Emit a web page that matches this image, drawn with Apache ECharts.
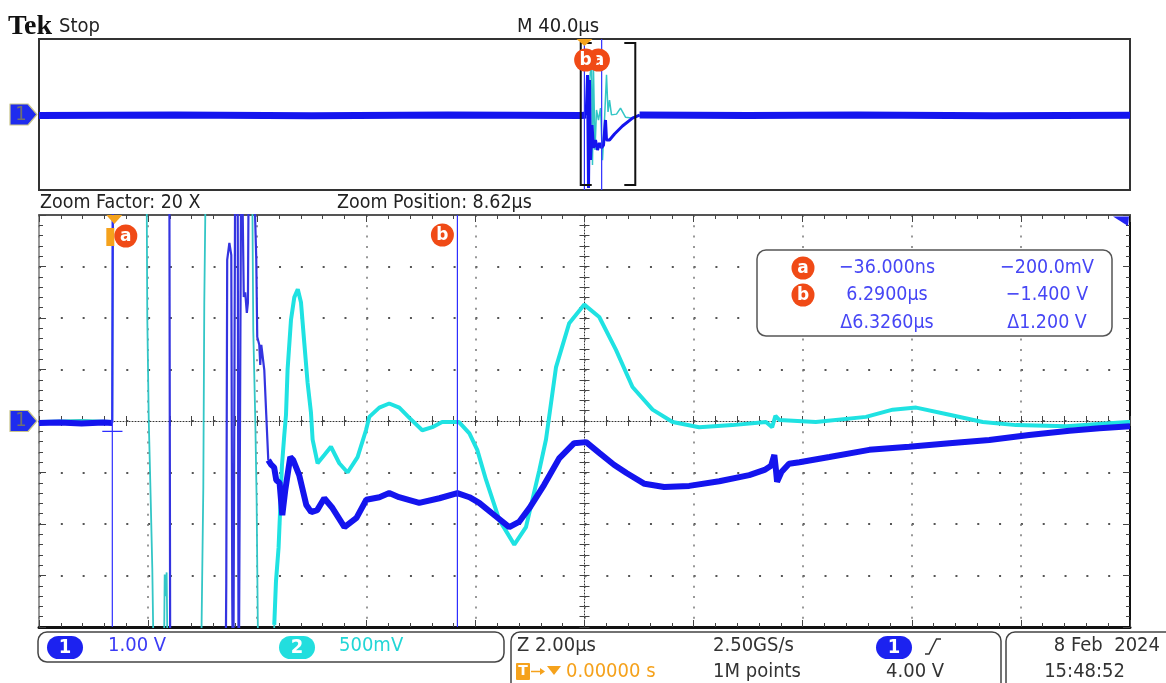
<!DOCTYPE html>
<html><head><meta charset="utf-8">
<script src="https://cdn.jsdelivr.net/npm/echarts@6/dist/echarts.min.js"></script>
<style>html,body{margin:0;padding:0;background:#fff;}#c{width:1166px;height:683px;}</style>
</head><body><div id="c"></div>
<script>
// ---------------- DATA (time in µs, amplitude in V) ----------------
// Zoomed view: 2 µs/div, zoom position 8.62 µs -> window -1.38 .. 18.62 µs
const mainTimeRange = [-1.38, 18.62];
const mainTimeDiv = 2;
// Main record: 40 µs/div, 10 div around trigger
const upperTimeRange = [-200, 200];
// CH1 1.00 V/div, CH2 500 mV/div, both centred
const ch1Range = [-4, 4];
const ch2Range = [-2, 2];

// CH1 (blue) – zoomed view
const ch1Pre = [[-1.38,-0.04],[-1.0,-0.03],[-0.6,-0.05],[-0.2,-0.03],[-0.037,-0.04]];
const ch1Burst = [[-0.037,-0.04],[-0.02,6],[1.008,6],[1.027,-6],[2.035,-6],[2.053,-3.15],[2.07,3.13],[2.11,3.46],[2.145,3.22],[2.163,-3.44],[2.18,-6],[2.2,-6],[2.22,6],[2.26,6],[2.28,-6],[2.31,-6],[2.33,6],[2.35,6],[2.374,2.41],[2.4,2.5],[2.43,2.1],[2.45,2.3],[2.47,6],[2.53,6],[2.603,3.13],[2.621,1.63],[2.658,1.48],[2.676,1.09],[2.695,1.48],[2.731,1.51],[2.75,0.99],[2.786,0.12],[2.823,-0.76]];
const ch1Tail = [[2.823,-0.76],[2.878,-0.85],[2.93,-0.9],[2.97,-1.15],[3.03,-1.2],[3.08,-1.83],[3.135,-1.34],[3.226,-0.70],[3.28,-0.76],[3.39,-1.05],[3.52,-1.63],[3.61,-1.77],[3.72,-1.73],[3.85,-1.50],[4.0,-1.69],[4.22,-2.06],[4.44,-1.88],[4.62,-1.53],[4.86,-1.48],[5.04,-1.40],[5.22,-1.48],[5.59,-1.59],[5.96,-1.50],[6.29,-1.40],[6.51,-1.48],[6.69,-1.59],[6.97,-1.83],[7.24,-2.06],[7.42,-1.96],[7.61,-1.69],[7.88,-1.24],[8.16,-0.72],[8.43,-0.43],[8.65,-0.41],[8.89,-0.62],[9.16,-0.85],[9.39,-1.01],[9.72,-1.22],[10.08,-1.28],[10.54,-1.26],[11.09,-1.17],[11.64,-1.05],[11.92,-0.95],[12.04,-0.87],[12.10,-0.66],[12.13,-0.95],[12.15,-1.18],[12.23,-0.99],[12.37,-0.83],[12.56,-0.80],[13.11,-0.70],[13.84,-0.56],[14.57,-0.50],[15.31,-0.43],[16.04,-0.37],[16.77,-0.27],[17.51,-0.19],[18.06,-0.14],[18.62,-0.10]];

// CH2 (cyan) – zoomed view
const ch2Burst = [[-1.38,0],[-0.6,0.01],[-0.037,0],[-0.02,3],[0.587,3],[0.605,1.01],[0.632,0.01],[0.669,-0.79],[0.697,-1.43],[0.74,-3],[0.9,-3],[0.924,-1.49],[0.94,-1.7],[0.96,-1.47],[0.99,-3],[1.58,-3],[1.6,-2],[1.632,-0.65],[1.65,1.15],[1.69,3],[2.52,3],[2.548,0.88],[2.585,0.01],[2.609,-0.75],[2.65,-3],[2.91,-3],[2.933,-1.98]];
const ch2Tail = [[2.933,-1.98],[2.964,-1.56],[3.012,-1.23],[3.037,-0.91],[3.074,-0.43],[3.116,-0.14],[3.148,0.06],[3.177,0.50],[3.239,0.98],[3.30,1.20],[3.364,1.28],[3.423,1.15],[3.483,0.76],[3.544,0.37],[3.606,0.08],[3.636,-0.18],[3.727,-0.41],[3.85,-0.33],[3.972,-0.25],[4.125,-0.41],[4.277,-0.50],[4.46,-0.35],[4.614,-0.09],[4.675,0.04],[4.858,0.13],[5.04,0.17],[5.225,0.13],[5.41,0.03],[5.646,-0.09],[5.83,-0.06],[6.01,-0.01],[6.32,-0.01],[6.51,-0.12],[6.654,-0.28],[6.814,-0.57],[7.058,-0.96],[7.333,-1.20],[7.547,-1.03],[7.791,-0.48],[7.914,-0.18],[8.097,0.52],[8.34,0.95],[8.616,1.13],[8.89,1.01],[9.197,0.69],[9.50,0.33],[9.868,0.11],[10.235,-0.01],[10.72,-0.06],[11.33,-0.04],[11.947,-0.01],[12.06,-0.06],[12.12,0.05],[12.19,0.01],[12.86,-0.01],[13.78,0.04],[14.27,0.11],[14.70,0.13],[15.31,0.06],[15.92,-0.01],[16.53,-0.04],[17.45,-0.05],[18.58,-0.01],[18.62,-0.01]];

// Main record (upper panel)
const up1Pre = [[-200,-0.05],[-150,-0.03],[-100,-0.06],[-50,-0.03],[-1,-0.05],[0.62,-0.03]];
const up1Burst = [[0.62,-0.03],[1.1,2.09],[1.47,-3.89],[1.83,1.83],[2.2,-2.41],[2.75,-0.56],[3.3,-1.77],[4.03,-1.35],[4.77,-1.88],[5.5,-1.51],[6.23,-1.77],[6.97,-1.62],[7.7,-0.29],[8.07,-1.35],[9.17,-1.35],[11.0,-1.03],[13.93,-0.61],[17.6,-0.19],[20.2,-0.03]];
const up1Post = [[20.2,-0.03],[60,-0.05],[100,-0.03],[150,-0.06],[200,-0.04]];
const up2 = [[-200,0],[0.73,-0.01],[2.57,1.44],[2.93,-1.34],[3.3,1.18],[3.85,-0.94],[4.4,0.12],[5.13,-0.15],[5.87,0.17],[6.6,-1.21],[7.33,-0.15],[8.07,1.05],[8.62,0.07],[9.17,0.38],[9.9,-0.01],[11.73,0.01],[13.2,0.17],[15.03,-0.07],[17.23,-0.09],[20.2,-0.01],[200,0]];

// Cursors
const cursorTimes = [-0.036, 6.29];
const cursorALevel = -0.2;
const zoomWindow = [-1.38, 18.62];
const cursorRows = [['a','−36.000ns','−200.0mV'],['b','6.2900µs','−1.400 V'],['','Δ6.3260µs','Δ1.200 V']];

// ---------------- CHART ----------------
const BLUE = '#1414ee', BLUE_THIN = '#3434e0', CYAN = '#1fe2e2', CYAN_THIN = '#33c6c6';
const CURSOR = '#2e2eff';
const ORANGE = '#f5a21c', RED = '#f04a16';
const chart = echarts.init(document.getElementById('c'), null, {renderer:'canvas'});
const tickStyle = {color:'#444', width:1};
const noLabel = {show:false};
function edgeX(pos, lineStyle, split){
  return {type:'value', gridIndex:0, position:pos, min:mainTimeRange[0], max:mainTimeRange[1], interval:mainTimeDiv,
    axisLabel:noLabel, axisLine:{show:true,onZero:false,lineStyle},
    axisTick:{show:true,inside:true,length:7,lineStyle:tickStyle},
    minorTick:{show:true,splitNumber:5,length:4,lineStyle:tickStyle},
    splitLine:{show:split,lineStyle:{color:'#777',width:1.5,type:[2,8.3]}}};
}
function centerX(inside, line){
  return {type:'value', gridIndex:1, position:'bottom', min:-5, max:5, interval:1, axisLabel:noLabel,
    axisLine:{show:line,onZero:true,onZeroAxisIndex:2,lineStyle:{color:'#333',width:1,type:[1,2]}},
    axisTick:{show:true,inside,length:5,lineStyle:tickStyle},
    minorTick:{show:true,splitNumber:5,length:5,lineStyle:tickStyle}, splitLine:{show:false}};
}
function centerY(inside, line){
  return {type:'value', gridIndex:1, position:'left', min:-4, max:4, interval:1, axisLabel:noLabel,
    axisLine:{show:line,onZero:true,onZeroAxisIndex:2,lineStyle:{color:'#333',width:1,type:[1,2]}},
    axisTick:{show:true,inside,length:5,lineStyle:tickStyle},
    minorTick:{show:true,splitNumber:5,length:5,lineStyle:tickStyle}, splitLine:{show:false}};
}
const line = (name, xi, yi, data, color, width, extra) => Object.assign({
  name, type:'line', xAxisIndex:xi, yAxisIndex:yi, data, showSymbol:false, symbol:'none',
  lineStyle:{color, width}, itemStyle:{color}, silent:true, animation:false}, extra||{});

// cursor lines drawn as plain line series through the axes
const cursorSeries = [];
cursorTimes.forEach((t, i) => {
  cursorSeries.push(line('cursor '+i, 0, 0, [[t, ch1Range[0]], [t, ch1Range[1]]], CURSOR, 1.2));
  cursorSeries.push(line('cursor main '+i, 4, 4, [[t, ch1Range[0]], [t, ch1Range[1]]], CURSOR, 1.2));
});
cursorSeries.push(line('cursor a level', 0, 0, [[-0.22, cursorALevel], [0.15, cursorALevel]], CURSOR, 1.2));

const option = {
  animation:false,
  grid:[
    {left:39,top:215,width:1091,height:412,outerBoundsMode:'none'},
    {left:39,top:215,width:1091,height:412,outerBoundsMode:'none'},
    {left:39,top:39,width:1091,height:151,show:true,borderColor:'#333',borderWidth:2,outerBoundsMode:'none'}
  ],
  xAxis:[
    edgeX('bottom',{color:'#111',width:3},true),
    edgeX('top',{color:'#555',width:2},false),
    centerX(true,true),
    centerX(false,false),
    {type:'value',gridIndex:2,min:upperTimeRange[0],max:upperTimeRange[1],show:false}
  ],
  yAxis:[
    {type:'value',gridIndex:0,position:'left',min:ch1Range[0],max:ch1Range[1],interval:1,axisLabel:noLabel,
      axisLine:{show:true,onZero:false,lineStyle:{color:'#777',width:1.5}},
      axisTick:{show:true,inside:true,length:7,lineStyle:tickStyle},
      minorTick:{show:true,splitNumber:5,length:4,lineStyle:tickStyle},
      splitLine:{show:true,lineStyle:{color:'#555',width:2,type:[2,19.82]}}},
    {type:'value',gridIndex:0,position:'right',min:ch2Range[0],max:ch2Range[1],interval:0.5,axisLabel:noLabel,
      axisLine:{show:true,onZero:false,lineStyle:{color:'#111',width:2}},
      axisTick:{show:true,inside:true,length:7,lineStyle:tickStyle},
      minorTick:{show:true,splitNumber:5,length:4,lineStyle:tickStyle},
      splitLine:{show:false}},
    centerY(true,true),
    centerY(false,false),
    {type:'value',gridIndex:2,min:ch1Range[0],max:ch1Range[1],show:false},
    {type:'value',gridIndex:2,min:ch2Range[0],max:ch2Range[1],show:false}
  ],
  series:[
    line('CH2 burst',0,1,ch2Burst,CYAN_THIN,1.8),
    line('CH2',0,1,ch2Tail,CYAN,4),
    line('CH1 pre',0,0,ch1Pre,BLUE,6),
    line('CH1 burst',0,0,ch1Burst,BLUE_THIN,2.2),
    line('CH1',0,0,ch1Tail,BLUE,6),
    line('CH2 main',4,5,up2,CYAN_THIN,1.5),
    line('CH1 main pre',4,4,up1Pre,BLUE,7),
    line('CH1 main post',4,4,up1Post,BLUE,7),
    line('CH1 main burst',4,4,up1Burst,BLUE,3),
    ...cursorSeries,
    {type:'custom',xAxisIndex:4,yAxisIndex:4,data:[zoomWindow],silent:true,clip:false,z:5,
      renderItem:(params,api)=>{
        const a = api.coord([api.value(0),3.79]), b = api.coord([api.value(1),-3.73]);
        const st = {stroke:'#111',lineWidth:2,fill:null};
        return {type:'group',children:[
          {type:'polyline',shape:{points:[[a[0]+11,a[1]],[a[0],a[1]],[a[0],b[1]],[a[0]+11,b[1]]]},style:st},
          {type:'polyline',shape:{points:[[b[0]-11,a[1]],[b[0],a[1]],[b[0],b[1]],[b[0]-11,b[1]]]},style:st}
        ]};
      }}
  ]
};
chart.setOption(option);

// ---------------- ANNOTATIONS ----------------
const P = (xi, yi, pt) => chart.convertToPixel({xAxisIndex:xi, yAxisIndex:yi}, pt);
function T(x, y, s, o){
  o = o||{};
  return {type:'text', x, y, z:o.z||40, scaleY:o.sy||1.12,
    style:{text:s, x:0, y:0, fill:o.c||'#222', font:(o.w||'normal')+' '+(o.fs||18)+'px '+(o.ff||'"DejaVu Sans"'),
      textAlign:o.a||'left', textVerticalAlign:'middle', align:o.a||'left', verticalAlign:'middle'}};
}
function circ(cx, cy, letter, z){
  return [{type:'circle', z:z||45, shape:{cx, cy, r:11.5}, style:{fill:RED}},
          T(cx, cy+0.5, letter, {c:'#fff', w:'bold', fs:17, a:'center', z:(z||45)+1, sy:1})];
}
function chMarker(y){
  return [{type:'polygon', z:40, shape:{points:[[10,y-10.5],[28,y-10.5],[37,y],[28,y+10.5],[10,y+10.5]]},
            style:{fill:'#1f2cee', stroke:'#c9c58a', lineWidth:1.2, lineJoin:'round'}},
          T(21, y, '1', {c:'#707070', fs:18, a:'center', z:41, sy:1.1})];
}
function pill(x, y, s, fill){
  return [{type:'rect', z:40, shape:{x, y, width:36, height:23, r:11.5}, style:{fill}},
          T(x+18, y+11.5, s, {c:'#fff', w:'bold', fs:18, a:'center', z:41, sy:1.1})];
}

const y0 = P(0,0,[0,0])[1];
const xT = P(0,0,[0,0])[0];
const xa = P(0,0,[cursorTimes[0],0])[0];
const xb = P(0,0,[cursorTimes[1],0])[0];
const yU0 = P(4,4,[0,0])[1];
const xTU = P(4,4,[0,0])[0];
const xaU = P(4,4,[cursorTimes[0],0])[0];
const xbU = P(4,4,[cursorTimes[1],0])[0];

const g = [];
// header
g.push(T(8, 27, 'Tek', {ff:'"Liberation Serif"', w:'bold', fs:28, c:'#111', sy:1}));
g.push(T(59, 26.5, 'Stop', {fs:18}));
g.push(T(517, 26.5, 'M 40.0µs', {fs:18}));
g.push(T(40, 203, 'Zoom Factor: 20 X', {fs:17.5}));
g.push(T(337, 203, 'Zoom Position: 8.62µs', {fs:17.5}));
// channel markers
g.push(...chMarker(y0));
g.push(...chMarker(yU0));
// trigger position markers
g.push({type:'polygon', z:42, shape:{points:[[xT-8,215],[xT+8,215],[xT,224]]}, style:{fill:ORANGE}});
g.push({type:'polygon', z:42, shape:{points:[[xTU-8,39],[xTU+8,39],[xTU,46]]}, style:{fill:ORANGE}});
g.push({type:'rect', z:43, shape:{x:xa-6, y:228, width:8, height:18}, style:{fill:ORANGE}});
// top-right ch1 level indicator
g.push({type:'polygon', z:42, shape:{points:[[1113,216.5],[1129,216.5],[1128,226]]}, style:{fill:'#2424f5'}});
// cursor labels
g.push(...circ(xa+13.5, 236, 'a'));
g.push(...circ(xb-15, 235, 'b'));
g.push(...circ(xaU+14, 60, 'a', 45));
g.push(...circ(xbU-16, 60, 'b', 47));
// cursor readout
g.push({type:'rect', z:30, shape:{x:757, y:250, width:355, height:86, r:9}, style:{fill:'#fff', stroke:'#555', lineWidth:1.5}});
const rowY = [268, 295, 322.5];
cursorRows.forEach((r, i) => {
  if (r[0]) g.push(...circ(803, rowY[i], r[0], 46));
  g.push(T(887, rowY[i], r[1], {c:'#4646f5', fs:17.5, a:'center'}));
  g.push(T(1047, rowY[i], r[2], {c:'#4646f5', fs:17.5, a:'center'}));
});
// status bar boxes
const boxSt = {fill:'none', stroke:'#444', lineWidth:1.5};
g.push({type:'rect', z:30, shape:{x:38, y:632, width:466, height:30, r:9}, style:boxSt});
g.push({type:'rect', z:30, shape:{x:511, y:632, width:490, height:62, r:9}, style:boxSt});
g.push({type:'rect', z:30, shape:{x:1006, y:632, width:175, height:62, r:9}, style:boxSt});
g.push(...pill(47, 636, '1', '#1c22f0'));
g.push(T(108, 646, '1.00 V', {c:'#3b3bf5'}));
g.push(...pill(279, 636, '2', '#22dede'));
g.push(T(339, 646, '500mV', {c:'#22d6d6'}));
g.push(T(517, 646, 'Z 2.00µs', {c:'#333'}));
g.push(T(713, 646, '2.50GS/s', {c:'#333'}));
g.push({type:'rect', z:40, shape:{x:516, y:663, width:14, height:17, r:1}, style:{fill:ORANGE}});
g.push(T(523, 671.5, 'T', {c:'#fff', w:'bold', fs:14, a:'center', z:41, sy:1}));
g.push({type:'polyline', z:40, shape:{points:[[531,671.5],[542,671.5]]}, style:{stroke:ORANGE, lineWidth:1.5}});
g.push({type:'polygon', z:40, shape:{points:[[540,668],[545,671.5],[540,675]]}, style:{fill:ORANGE}});
g.push({type:'polygon', z:40, shape:{points:[[547,666],[561,666],[554,675]]}, style:{fill:ORANGE}});
g.push(T(566, 672, '0.00000 s', {c:ORANGE}));
g.push(T(713, 672, '1M points', {c:'#333'}));
g.push(...pill(876, 636, '1', '#1c22f0'));
g.push({type:'polyline', z:40, shape:{points:[[925,654],[929,654],[936.5,639],[941,639]]}, style:{stroke:'#333', lineWidth:1.5, fill:null}});
g.push(T(886, 672, '4.00 V', {c:'#333'}));
g.push(T(1160, 646, '8 Feb  2024', {c:'#333', a:'right'}));
g.push(T(1125, 671.5, '15:48:52', {c:'#333', a:'right'}));

chart.setOption({graphic:g});
</script>
</body></html>
